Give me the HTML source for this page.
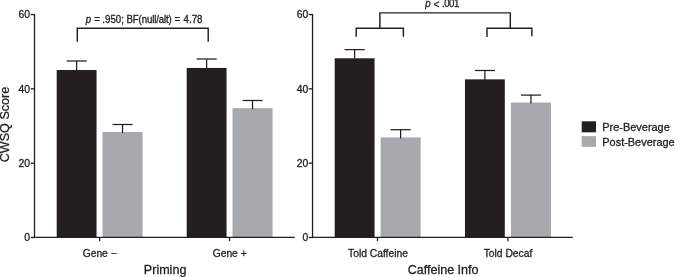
<!DOCTYPE html>
<html><head><meta charset="utf-8"><title>Chart</title>
<style>
html,body{margin:0;padding:0;background:#fff;}
svg{display:block;font-family:"Liberation Sans",sans-serif;fill:#231f20;}
text{stroke:#231f20;stroke-width:0.3px;}
</style></head><body>
<svg width="675" height="277" viewBox="0 0 675 277">
<rect x="0" y="0" width="675" height="277" fill="#ffffff"/>
<rect x="56.70" y="70.00" width="39.85" height="167.45" fill="#231f20"/>
<line x1="76.62" y1="71.00" x2="76.62" y2="61.00" stroke="#231f20" stroke-width="1.25"/>
<line x1="66.62" y1="61.00" x2="86.72" y2="61.00" stroke="#231f20" stroke-width="1.25"/>
<rect x="102.50" y="132.00" width="40.05" height="105.45" fill="#a7a9ac"/>
<line x1="122.53" y1="133.00" x2="122.53" y2="124.50" stroke="#231f20" stroke-width="1.25"/>
<line x1="112.53" y1="124.50" x2="132.62" y2="124.50" stroke="#231f20" stroke-width="1.25"/>
<rect x="186.70" y="67.95" width="39.85" height="169.50" fill="#231f20"/>
<line x1="206.62" y1="68.95" x2="206.62" y2="59.00" stroke="#231f20" stroke-width="1.25"/>
<line x1="196.62" y1="59.00" x2="216.72" y2="59.00" stroke="#231f20" stroke-width="1.25"/>
<rect x="232.50" y="108.10" width="40.05" height="129.35" fill="#a7a9ac"/>
<line x1="252.53" y1="109.10" x2="252.53" y2="100.50" stroke="#231f20" stroke-width="1.25"/>
<line x1="242.53" y1="100.50" x2="262.62" y2="100.50" stroke="#231f20" stroke-width="1.25"/>
<line x1="34.50" y1="14.00" x2="34.50" y2="238.11" stroke="#231f20" stroke-width="1.32"/>
<line x1="33.84" y1="237.45" x2="294.80" y2="237.45" stroke="#231f20" stroke-width="1.32"/>
<line x1="30.70" y1="237.45" x2="34.50" y2="237.45" stroke="#231f20" stroke-width="1.32"/>
<text x="30.10" y="241.15" font-size="10.4" text-anchor="end" >0</text>
<line x1="30.70" y1="163.15" x2="34.50" y2="163.15" stroke="#231f20" stroke-width="1.32"/>
<text x="30.10" y="166.85" font-size="10.4" text-anchor="end" >20</text>
<line x1="30.70" y1="88.85" x2="34.50" y2="88.85" stroke="#231f20" stroke-width="1.32"/>
<text x="30.10" y="92.55" font-size="10.4" text-anchor="end" >40</text>
<line x1="30.70" y1="14.55" x2="34.50" y2="14.55" stroke="#231f20" stroke-width="1.32"/>
<text x="30.10" y="18.25" font-size="10.4" text-anchor="end" >60</text>
<text x="99.70" y="256.95" font-size="10.3" text-anchor="middle" >Gene −</text>
<text x="229.70" y="256.95" font-size="10.3" text-anchor="middle" >Gene +</text>
<text x="165.10" y="273.50" font-size="12.55" text-anchor="middle" >Priming</text>
<line x1="99.65" y1="237.45" x2="99.65" y2="241.15" stroke="#231f20" stroke-width="1.32"/>
<line x1="229.50" y1="237.45" x2="229.50" y2="241.15" stroke="#231f20" stroke-width="1.32"/>
<rect x="334.70" y="58.30" width="39.85" height="179.15" fill="#231f20"/>
<line x1="354.62" y1="59.30" x2="354.62" y2="49.60" stroke="#231f20" stroke-width="1.25"/>
<line x1="344.62" y1="49.60" x2="364.73" y2="49.60" stroke="#231f20" stroke-width="1.25"/>
<rect x="380.60" y="137.40" width="40.05" height="100.05" fill="#a7a9ac"/>
<line x1="400.62" y1="138.40" x2="400.62" y2="129.70" stroke="#231f20" stroke-width="1.25"/>
<line x1="390.62" y1="129.70" x2="410.73" y2="129.70" stroke="#231f20" stroke-width="1.25"/>
<rect x="464.95" y="79.35" width="39.85" height="158.10" fill="#231f20"/>
<line x1="484.88" y1="80.35" x2="484.88" y2="70.50" stroke="#231f20" stroke-width="1.25"/>
<line x1="474.88" y1="70.50" x2="494.98" y2="70.50" stroke="#231f20" stroke-width="1.25"/>
<rect x="510.95" y="102.55" width="40.05" height="134.90" fill="#a7a9ac"/>
<line x1="530.98" y1="103.55" x2="530.98" y2="95.10" stroke="#231f20" stroke-width="1.25"/>
<line x1="520.98" y1="95.10" x2="541.08" y2="95.10" stroke="#231f20" stroke-width="1.25"/>
<line x1="312.55" y1="14.00" x2="312.55" y2="238.11" stroke="#231f20" stroke-width="1.32"/>
<line x1="311.89" y1="237.45" x2="572.85" y2="237.45" stroke="#231f20" stroke-width="1.32"/>
<line x1="308.75" y1="237.45" x2="312.55" y2="237.45" stroke="#231f20" stroke-width="1.32"/>
<text x="308.35" y="241.15" font-size="10.4" text-anchor="end" >0</text>
<line x1="308.75" y1="163.15" x2="312.55" y2="163.15" stroke="#231f20" stroke-width="1.32"/>
<text x="308.35" y="166.85" font-size="10.4" text-anchor="end" >20</text>
<line x1="308.75" y1="88.85" x2="312.55" y2="88.85" stroke="#231f20" stroke-width="1.32"/>
<text x="308.35" y="92.55" font-size="10.4" text-anchor="end" >40</text>
<line x1="308.75" y1="14.55" x2="312.55" y2="14.55" stroke="#231f20" stroke-width="1.32"/>
<text x="308.35" y="18.25" font-size="10.4" text-anchor="end" >60</text>
<text x="378.00" y="256.95" font-size="10.3" text-anchor="middle" >Told Caffeine</text>
<text x="508.00" y="256.95" font-size="10.3" text-anchor="middle" >Told Decaf</text>
<text x="443.10" y="273.50" font-size="12.55" text-anchor="middle" >Caffeine Info</text>
<line x1="377.50" y1="237.45" x2="377.50" y2="241.15" stroke="#231f20" stroke-width="1.32"/>
<line x1="507.90" y1="237.45" x2="507.90" y2="241.15" stroke="#231f20" stroke-width="1.32"/>
<text transform="translate(8.9,124.5) rotate(-90)" font-size="12.6" text-anchor="middle">CWSQ Score</text>
<polyline points="77.30,41.70 77.30,28.15 208.20,28.15 208.20,41.70" fill="none" stroke="#231f20" stroke-width="1.45"/>
<text transform="translate(0,22.6) scale(0.942,1)" font-size="10.3" style="stroke-width:0.32px"><tspan x="91.03" y="0" font-style="italic">p </tspan><tspan x="99.95" y="0.55">= </tspan><tspan x="108.65" y="0">.950; </tspan><tspan x="134.24" y="0" letter-spacing="-0.143">BF(null/alt) </tspan><tspan x="185.30" y="0.55">= </tspan><tspan x="194.90" y="0">4.78</tspan></text>
<polyline points="356.20,36.70 356.20,28.30 403.40,28.30 403.40,36.70" fill="none" stroke="#231f20" stroke-width="1.45"/>
<polyline points="487.00,36.90 487.00,28.30 531.90,28.30 531.90,36.20" fill="none" stroke="#231f20" stroke-width="1.45"/>
<polyline points="379.90,28.30 379.90,12.85 510.30,12.85 510.30,28.30" fill="none" stroke="#231f20" stroke-width="1.45"/>
<text transform="translate(0,6.95) scale(0.942,1)" font-size="10.3" style="stroke-width:0.32px"><tspan x="451.43" y="0" font-style="italic">p </tspan><tspan x="460.35" y="0.55">&lt; </tspan><tspan x="469.16" y="0" letter-spacing="-0.531">.001</tspan></text>
<rect x="581.70" y="121.30" width="14.30" height="11.00" fill="#231f20"/>
<rect x="581.70" y="136.10" width="14.30" height="10.70" fill="#a7a9ac"/>
<text x="602.30" y="131.05" font-size="10.95" text-anchor="start" >Pre-Beverage</text>
<text x="602.30" y="145.75" font-size="10.95" text-anchor="start" >Post-Beverage</text>
</svg>
</body></html>
